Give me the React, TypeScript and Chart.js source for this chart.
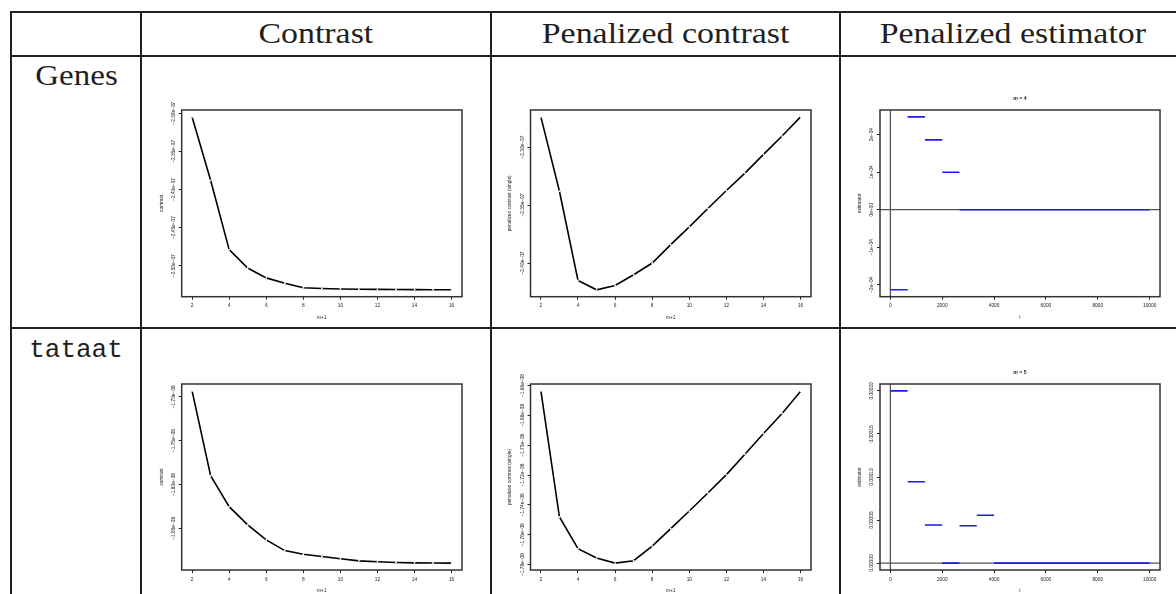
import React, { useEffect, useRef } from "react";
import { Chart, registerables } from "chart.js";

Chart.register(...registerables);

// ---------- data ----------
const mPlus1 = [2, 3, 4, 5, 6, 7, 8, 9, 10, 11, 12, 13, 14, 15, 16];

const genesContrast = [
  -2.3049e-7, -2.388e-7, -2.479e-7, -2.503e-7, -2.516e-7, -2.523e-7, -2.529e-7, -2.53e-7,
  -2.5305e-7, -2.5308e-7, -2.531e-7, -2.5312e-7, -2.5314e-7, -2.5315e-7, -2.5316e-7,
];
const genesPenalized = [
  -2.274e-7, -2.3381e-7, -2.415e-7, -2.4231e-7, -2.4194e-7, -2.4101e-7, -2.4e-7, -2.3842e-7,
  -2.3689e-7, -2.353e-7, -2.3375e-7, -2.3225e-7, -2.3063e-7, -2.2905e-7, -2.274e-7,
];
const tataatContrast = [
  -1.6932e-8, -1.79e-8, -1.8253e-8, -1.8461e-8, -1.8632e-8, -1.8754e-8, -1.8795e-8, -1.8822e-8,
  -1.8848e-8, -1.8871e-8, -1.8882e-8, -1.889e-8, -1.8894e-8, -1.8896e-8, -1.8897e-8,
];
const tataatPenalized = [
  -1.6636e-8, -1.7481e-8, -1.7693e-8, -1.7756e-8, -1.779e-8, -1.7774e-8, -1.7676e-8, -1.7559e-8,
  -1.7441e-8, -1.732e-8, -1.7197e-8, -1.706e-8, -1.6921e-8, -1.6787e-8, -1.6638e-8,
];

const genesBreaks = [0, 667, 1333, 2000, 2667, 10000];
const genesLevels = [-2.133e-4, 2.47e-4, 1.858e-4, 0.995e-4, 0];
const tataatBreaks = [0, 667, 1333, 2000, 2667, 3333, 4000, 10000];
const tataatLevels = [2.0e-4, 0.945e-4, 0.442e-4, 0, 0.434e-4, 0.555e-4, 0];

// ---------- tick labels ----------
const mTicks = [2, 4, 6, 8, 10, 12, 14, 16];
const mTickLabels = ["2", "4", "6", "8", "10", "12", "14", "16"];
const tTicks = [0, 2000, 4000, 6000, 8000, 10000];
const tTickLabels = ["0", "2000", "4000", "6000", "8000", "10000"];

const genesContrastTicks = [-2.3e-7, -2.35e-7, -2.4e-7, -2.45e-7, -2.5e-7];
const genesContrastLabels = ["\u22122.30e\u221207", "\u22122.35e\u221207", "\u22122.40e\u221207", "\u22122.45e\u221207", "\u22122.50e\u221207"];
const genesPenTicks = [-2.3e-7, -2.35e-7, -2.4e-7];
const genesPenLabels = ["\u22122.30e\u221207", "\u22122.35e\u221207", "\u22122.40e\u221207"];
const genesEstTicks = [-2e-4, -1e-4, 0, 1e-4, 2e-4];
const genesEstLabels = ["\u22122e\u221204", "\u22121e\u221204", "0e+00", "1e\u221204", "2e\u221204"];
const tataatContrastTicks = [-1.7e-8, -1.75e-8, -1.8e-8, -1.85e-8];
const tataatContrastLabels = ["\u22121.70e\u221208", "\u22121.75e\u221208", "\u22121.80e\u221208", "\u22121.85e\u221208"];
const tataatPenTicks = [-1.78e-8, -1.76e-8, -1.74e-8, -1.72e-8, -1.7e-8, -1.68e-8, -1.66e-8];
const tataatPenLabels = [
  "\u22121.78e\u221208", "\u22121.76e\u221208", "\u22121.74e\u221208", "\u22121.72e\u221208",
  "\u22121.70e\u221208", "\u22121.68e\u221208", "\u22121.66e\u221208",
];
const tataatEstTicks = [0, 0.00005, 0.0001, 0.00015, 0.0002];
const tataatEstLabels = ["0.00000", "0.00005", "0.00010", "0.00015", "0.00020"];

const colHeaders = ["Contrast", "Penalized contrast", "Penalized estimator"];
const rowHeaders = ["Genes", "tataat"];

// ---------- helpers ----------
function rRange(vals: number[]): [number, number] {
  const lo = Math.min(...vals);
  const hi = Math.max(...vals);
  const d = (hi - lo) * 0.04;
  return [lo - d, hi + d];
}

function stepData(breaks: number[], levels: number[]) {
  const out: any[] = [];
  levels.forEach((v, i) => {
    out.push({ x: breaks[i], y: v });
    out.push({ x: breaks[i + 1], y: v });
    out.push({ x: breaks[i + 1], y: null });
  });
  return out;
}

function lineDataset(vals: number[]) {
  return {
    data: mPlus1.map((m, i) => ({ x: m, y: vals[i] })),
    showLine: true,
    borderColor: "#000",
    borderWidth: 1.6,
    pointRadius: 0.9,
    pointBackgroundColor: "#fff",
    pointBorderWidth: 0,
    tension: 0,
  };
}

function stepDataset(breaks: number[], levels: number[]) {
  return {
    data: stepData(breaks, levels),
    showLine: true,
    borderColor: "#1c1cf0",
    borderWidth: 1.6,
    pointRadius: 0,
    spanGaps: false,
  };
}

type Spec = {
  canvas: { left: number; top: number; w: number; h: number };
  box: { l: number; t: number; r: number; b: number };
  datasets: any[];
  xRange: [number, number];
  yRange: [number, number];
  xTicks: number[];
  xTickLabels: string[];
  yTicks: number[];
  yTickLabels: string[];
  xTitle: string;
  yTitle: string;
  title?: string;
  zeroLines?: boolean;
};

const FONT = '"Liberation Sans", Arial, sans-serif';

function decorPlugin(p: Spec) {
  return {
    id: "rdecor",
    beforeDatasetsDraw(chart: any) {
      if (!p.zeroLines) return;
      const { ctx, chartArea: a, scales } = chart;
      const x0 = scales.x.getPixelForValue(0);
      const y0 = scales.y.getPixelForValue(0);
      ctx.save();
      ctx.strokeStyle = "#555";
      ctx.lineWidth = 1.3;
      ctx.beginPath();
      ctx.moveTo(a.left, y0);
      ctx.lineTo(a.right, y0);
      ctx.moveTo(x0, a.top);
      ctx.lineTo(x0, a.bottom);
      ctx.stroke();
      ctx.restore();
    },
    afterDraw(chart: any) {
      const { ctx, chartArea: a, scales } = chart;
      ctx.save();
      ctx.strokeStyle = "#333";
      ctx.lineWidth = 1.5;
      ctx.strokeRect(a.left, a.top, a.right - a.left, a.bottom - a.top);
      ctx.fillStyle = "#222";
      ctx.font = `4.8px ${FONT}`;
      ctx.textAlign = "center";
      ctx.textBaseline = "middle";
      p.xTicks.forEach((v, i) => {
        ctx.fillText(p.xTickLabels[i], scales.x.getPixelForValue(v), a.bottom + 9.3);
      });
      ctx.fillText(p.xTitle, (a.left + a.right) / 2, a.bottom + 21);
      p.yTicks.forEach((v, i) => {
        ctx.save();
        ctx.translate(a.left - 8.3, scales.y.getPixelForValue(v));
        ctx.rotate(-Math.PI / 2);
        ctx.fillText(p.yTickLabels[i], 0, 0);
        ctx.restore();
      });
      ctx.save();
      ctx.translate(a.left - 20.5, (a.top + a.bottom) / 2);
      ctx.rotate(-Math.PI / 2);
      ctx.fillText(p.yTitle, 0, 0);
      ctx.restore();
      if (p.title) {
        ctx.font = `bold 5.2px ${FONT}`;
        ctx.fillText(p.title, (a.left + a.right) / 2, a.top - 11);
      }
      ctx.restore();
    },
  };
}

function RPlot({ spec }: { spec: Spec }) {
  const ref = useRef<HTMLCanvasElement>(null);
  useEffect(() => {
    const p = spec;
    const c = p.canvas;
    const grid = {
      display: true,
      drawOnChartArea: false,
      drawTicks: true,
      tickLength: 3,
      color: "#222",
      lineWidth: 1,
    };
    const chart = new Chart(ref.current as HTMLCanvasElement, {
      type: "scatter",
      data: { datasets: p.datasets },
      options: {
        animation: false,
        responsive: false,
        devicePixelRatio: 1,
        events: [],
        layout: {
          padding: { left: 0, top: p.box.t - c.top, right: c.left + c.w - p.box.r, bottom: 0 },
        },
        plugins: { legend: { display: false }, tooltip: { enabled: false }, title: { display: false } },
        scales: {
          x: {
            type: "linear",
            position: "bottom",
            min: p.xRange[0],
            max: p.xRange[1],
            ticks: { display: false },
            grid,
            border: { display: false },
            afterBuildTicks: (s: any) => {
              s.ticks = p.xTicks.map((v) => ({ value: v }));
            },
            afterFit: (s: any) => {
              s.height = c.top + c.h - p.box.b;
            },
          },
          y: {
            type: "linear",
            position: "left",
            min: p.yRange[0],
            max: p.yRange[1],
            ticks: { display: false },
            grid,
            border: { display: false },
            afterBuildTicks: (s: any) => {
              s.ticks = p.yTicks.map((v) => ({ value: v }));
            },
            afterFit: (s: any) => {
              s.width = p.box.l - c.left;
            },
          },
        },
      } as any,
      plugins: [decorPlugin(p)],
    });
    return () => chart.destroy();
  }, [spec]);
  const c = spec.canvas;
  return (
    <canvas
      ref={ref}
      width={c.w}
      height={c.h}
      style={{ position: "absolute", left: c.left, top: c.top, width: c.w, height: c.h }}
    />
  );
}

// ---------- layout ----------
const row1 = { top: 58, h: 268, t: 110, b: 296.7 };
const row2 = { top: 330, h: 264, t: 384, b: 570 };
const col1 = { left: 143, w: 346, l: 181.7, r: 462 };
const col2 = { left: 493, w: 345, l: 530.5, r: 811 };
const col3 = { left: 842, w: 334, l: 880, r: 1160 };

function mk(row: any, col: any, rest: any): Spec {
  return {
    canvas: { left: col.left, top: row.top, w: col.w, h: row.h },
    box: { l: col.l, t: row.t, r: col.r, b: row.b },
    ...rest,
  };
}

const specs: Spec[] = [
  mk(row1, col1, {
    datasets: [lineDataset(genesContrast)],
    xRange: rRange(mPlus1),
    yRange: rRange(genesContrast),
    xTicks: mTicks,
    xTickLabels: mTickLabels,
    yTicks: genesContrastTicks,
    yTickLabels: genesContrastLabels,
    xTitle: "m+1",
    yTitle: "contrast",
  }),
  mk(row1, col2, {
    datasets: [lineDataset(genesPenalized)],
    xRange: rRange(mPlus1),
    yRange: rRange(genesPenalized),
    xTicks: mTicks,
    xTickLabels: mTickLabels,
    yTicks: genesPenTicks,
    yTickLabels: genesPenLabels,
    xTitle: "m+1",
    yTitle: "penalized contrast (single)",
  }),
  mk(row1, col3, {
    datasets: [stepDataset(genesBreaks, genesLevels)],
    xRange: rRange([genesBreaks[0], genesBreaks[genesBreaks.length - 1]]),
    yRange: rRange(genesLevels),
    xTicks: tTicks,
    xTickLabels: tTickLabels,
    yTicks: genesEstTicks,
    yTickLabels: genesEstLabels,
    xTitle: "t",
    yTitle: "estimator",
    title: "m = 4",
    zeroLines: true,
  }),
  mk(row2, col1, {
    datasets: [lineDataset(tataatContrast)],
    xRange: rRange(mPlus1),
    yRange: rRange(tataatContrast),
    xTicks: mTicks,
    xTickLabels: mTickLabels,
    yTicks: tataatContrastTicks,
    yTickLabels: tataatContrastLabels,
    xTitle: "m+1",
    yTitle: "contrast",
  }),
  mk(row2, col2, {
    datasets: [lineDataset(tataatPenalized)],
    xRange: rRange(mPlus1),
    yRange: rRange(tataatPenalized),
    xTicks: mTicks,
    xTickLabels: mTickLabels,
    yTicks: tataatPenTicks,
    yTickLabels: tataatPenLabels,
    xTitle: "m+1",
    yTitle: "penalized contrast (single)",
  }),
  mk(row2, col3, {
    datasets: [stepDataset(tataatBreaks, tataatLevels)],
    xRange: rRange([tataatBreaks[0], tataatBreaks[tataatBreaks.length - 1]]),
    yRange: rRange(tataatLevels),
    xTicks: tTicks,
    xTickLabels: tTickLabels,
    yTicks: tataatEstTicks,
    yTickLabels: tataatEstLabels,
    xTitle: "t",
    yTitle: "estimator",
    title: "m = 5",
    zeroLines: true,
  }),
];

const LINE = "#231f20";
const vLines = [11, 141, 491, 840, 1186];
const hLines = [12, 56, 328, 600];
const headerCells = [
  [141, 491],
  [491, 840],
  [840, 1186],
];

export default function App() {
  return (
    <div
      style={{
        position: "absolute",
        left: 0,
        top: 0,
        width: 1176,
        height: 594,
        overflow: "hidden",
        background: "#fff",
      }}
    >
      {hLines.map((y) => (
        <div key={"h" + y} style={{ position: "absolute", left: 10, top: y - 1, width: 1180, height: 2, background: LINE }} />
      ))}
      {vLines.map((x) => (
        <div key={"v" + x} style={{ position: "absolute", left: x - 1, top: 11, width: 2, height: 600, background: LINE }} />
      ))}
      {colHeaders.map((t, i) => (
        <div
          key={t}
          style={{
            position: "absolute",
            left: headerCells[i][0],
            width: headerCells[i][1] - headerCells[i][0],
            top: 43 - 25.1,
            height: 30,
            lineHeight: "30px",
            fontSize: 30,
            fontFamily: '"Liberation Serif", "Times New Roman", serif',
            textAlign: "center",
            whiteSpace: "nowrap",
            color: "#231f20",
          }}
        >
          <span style={{ display: "inline-block", transform: "scaleX(1.13)" }}>{t}</span>
        </div>
      ))}
      <div
        style={{
          position: "absolute",
          left: 11,
          width: 130,
          top: 85 - 25.1,
          height: 30,
          lineHeight: "30px",
          fontSize: 30,
          fontFamily: '"Liberation Serif", "Times New Roman", serif',
          textAlign: "center",
          whiteSpace: "nowrap",
          color: "#231f20",
        }}
      >
        <span style={{ display: "inline-block", transform: "scaleX(1.1)" }}>{rowHeaders[0]}</span>
      </div>
      <div
        style={{
          position: "absolute",
          left: 11,
          width: 130,
          top: 357 - 19.9,
          height: 26,
          lineHeight: "26px",
          fontSize: 26,
          fontFamily: '"Liberation Mono", "Courier New", monospace',
          textAlign: "center",
          whiteSpace: "nowrap",
          color: "#231f20",
        }}
      >
        {rowHeaders[1]}
      </div>
      {specs.map((s, i) => (
        <RPlot key={i} spec={s} />
      ))}
    </div>
  );
}
